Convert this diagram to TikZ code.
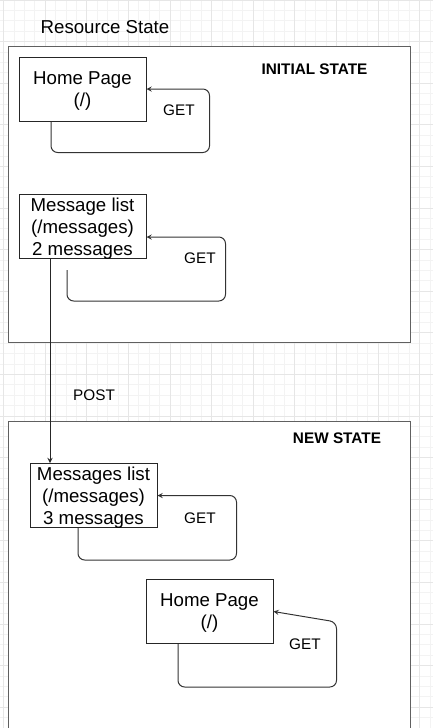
\documentclass[tikz,border=0pt]{standalone}
\usepackage{fontspec}
\setmainfont{Liberation Sans}
\usetikzlibrary{calc}

\definecolor{gridminor}{HTML}{F3F3F3}
\definecolor{gridmajor}{HTML}{E6E6E6}
\definecolor{framegray}{HTML}{606060}

\tikzset{
	pagebox/.style={draw=black!85,fill=white,minimum width=95.25pt,minimum height=48pt,inner sep=0pt,text depth=-2pt,align=center,font=\fontsize{14}{16.5}\selectfont},
	statebox/.style={draw=framegray,fill=white,inner sep=0pt},
	smalltext/.style={font=\fontsize{11.5}{13}\selectfont},
	heading/.style={font=\fontsize{11.5}{13}\selectfont\bfseries},
	getloop/.style={draw=black!80,-stealth,rounded corners=5pt},
	postarrow/.style={draw=black!85,-stealth},
}

\begin{document}
\begin{tikzpicture}[x=0.75pt,y=-0.75pt,line width=0.75pt]
				
				\useasboundingbox (0,0) rectangle (432,728);
				
				% grid behind everything
				\draw[gridminor,xshift=2.7pt,step=7.8pt] (-12,735) grid (440,-5);
				\draw[gridmajor,xshift=2.7pt,step=31.2pt] (-12,735) grid (440,-5);
				
				\node[font=\fontsize{14}{16}\selectfont] (title) at (105,27) {Resource State};
				
				\node[statebox,minimum width=301.5pt,minimum height=222pt] (initial) at (209,194) {};
				\node[heading] (lblinit) at (314.5,69) {INITIAL STATE};
				
				\node[pagebox] (home1) at (82.5,89) {Home Page\\(/)};
				\node[pagebox] (list1) at (82.5,226.5) {Message list\\(/messages)\\2 messages};
				
				\draw[getloop] ($(home1.south)+(-31.5,0)$) -- ++(0,31) -| ($(home1.east)+(63,0)$) -- (home1.east);
				\node[smalltext] (get1) at (179,110) {GET};
				
				\draw[getloop] ($(list1.south)+(-15.5,11)$) -- ++(0,31) -| ($(list1.east)+(79,10.5)$) -- ($(list1.east)+(0,10.5)$);
				\node[smalltext] (get2) at (200,258) {GET};
				
				\node[statebox,minimum width=301.5pt,minimum height=240pt] (new) at (209,581) {};
				\node[heading] (lblnew) at (337,438) {NEW STATE};
				
				\node[pagebox] (list2) at (93.5,495.5) {Messages list\\(/messages)\\3 messages};
				\node[pagebox] (home2) at (209.5,611.5) {Home Page\\(/)};
				
				\draw[getloop] ($(list2.south)+(-15.5,0)$) -- ++(0,32) -| ($(list2.east)+(79,0)$) -- (list2.east);
				\node[smalltext] (get3) at (200,518) {GET};
				
				\draw[getloop] ($(home2.south)+(-31.5,0)$) -- ++(0,43) -| ($(home2.east)+(63,10.5)$) -- (home2.east);
				\node[smalltext] (get4) at (305,644) {GET};
				
				\draw[postarrow] ($(list1.south)+(-32.5,0)$) -- ($(list2.north)+(-43.5,0)$);
				\node[smalltext] (post) at (94,395) {POST};
				
			\end{tikzpicture}
\end{document}
